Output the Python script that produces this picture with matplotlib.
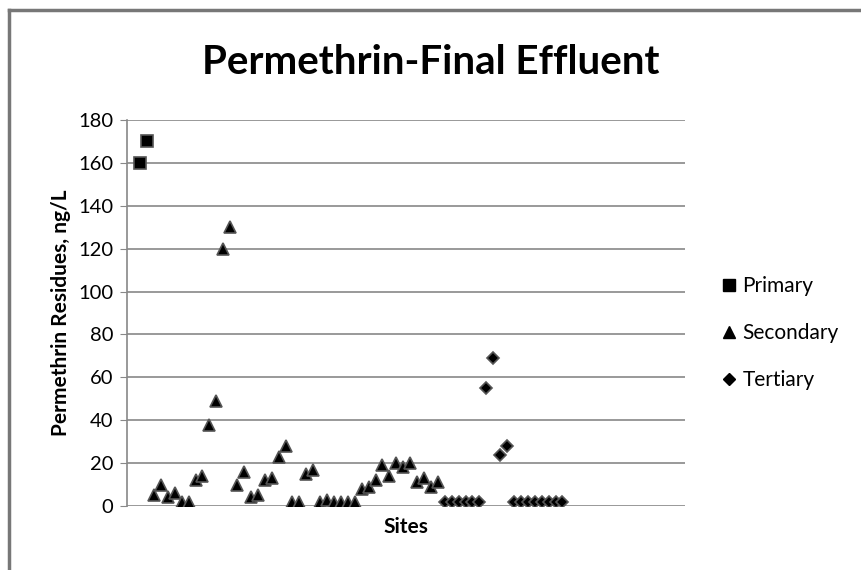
import matplotlib
matplotlib.use("Agg")
import matplotlib.pyplot as plt
from matplotlib.lines import Line2D

# values, ng/L
primary = [160, 170]
secondary = [5, 10, 4, 6, 2, 2, 12, 14, 38, 49, 120, 130, 10, 16, 4, 5, 12, 13,
             23, 28, 2, 2, 15, 17, 2, 3, 2, 2, 2, 2, 8, 9, 12, 19, 14, 20, 18, 20,
             11, 13, 9, 11]
tertiary = [2, 2, 2, 2, 2, 2, 55, 69, 24, 28, 2, 2, 2, 2, 2, 2, 2, 2]

x_pri = list(range(1, 1 + len(primary)))
x_sec = list(range(x_pri[-1] + 1, x_pri[-1] + 1 + len(secondary)))
x_ter = list(range(x_sec[-1] + 1, x_sec[-1] + 1 + len(tertiary)))

plt.rcParams['font.family'] = ['Lato', 'DejaVu Sans']

fig = plt.figure(figsize=(8.61, 5.70), dpi=100)
ax = fig.add_axes([127/861, 1 - 506/570, 558/861, 386/570])

mk = dict(color='black', markeredgecolor='#555555', markeredgewidth=1.2, linestyle='none')
ax.plot(x_pri, primary, marker='s', markersize=9, **mk)
ax.plot(x_sec, secondary, marker='^', markersize=9, **mk)
ax.plot(x_ter, tertiary, marker='D', markersize=6, **mk)

ax.set_xlim(-0.9, 79.7)
ax.set_ylim(0, 180)
ax.set_yticks(range(0, 181, 20))
ax.set_xticks([])
ax.grid(axis='y', color='#888888', linewidth=1.2)
ax.set_axisbelow(True)
for s in ['top', 'right', 'bottom']:
    ax.spines[s].set_visible(False)
ax.spines['left'].set_color('#888888')
ax.spines['left'].set_linewidth(1.2)
ax.tick_params(axis='y', length=5, color='#888888', labelsize=14.5, pad=5)

ax.set_ylabel('Permethrin Residues, ng/L', fontsize=15, fontweight='bold', labelpad=5)
ax.set_xlabel('Sites', fontsize=15, fontweight='bold', labelpad=8)
fig.text(0.5, 1 - 62/570, 'Permethrin-Final Effluent', ha='center', va='center',
         fontsize=29, fontweight='bold')

# legend
handles = [Line2D([], [], marker='s', markersize=8, color='black', linestyle='none'),
           Line2D([], [], marker='^', markersize=8, color='black', linestyle='none'),
           Line2D([], [], marker='D', markersize=6, color='black', linestyle='none')]
fig.legend(handles, ['Primary', 'Secondary', 'Tertiary'], loc='center left',
           bbox_to_anchor=(704/861, 1 - 333/570), frameon=False, fontsize=15,
           handlelength=0.6, handletextpad=0.35, labelspacing=1.3)

# chart border
fig.add_artist(Line2D([9/861, 9/861], [0, 1 - 10/570], color='#777777', linewidth=2.5))
fig.add_artist(Line2D([9/861, 1], [1 - 10/570, 1 - 10/570], color='#777777', linewidth=2.5))

fig.savefig('out.png', dpi=100)
